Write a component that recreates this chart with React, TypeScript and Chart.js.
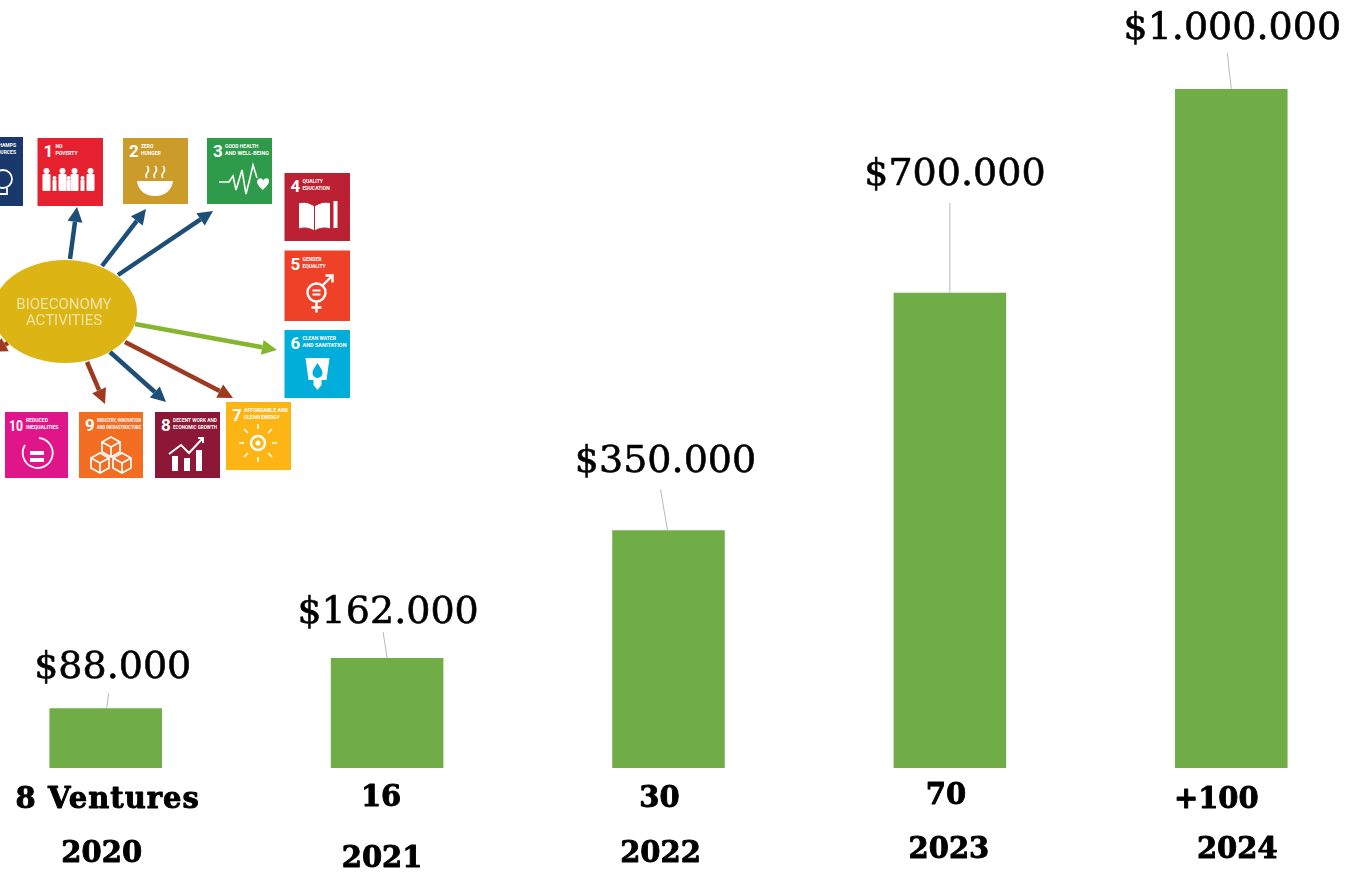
import React, { useEffect, useRef } from "react";
import { Chart, registerables } from "chart.js";

Chart.register(...registerables);

const years = ["2020", "2021", "2022", "2023", "2024"];
const ventures = ["8 Ventures", "16", "30", "70", "+100"];
const funding = [88000, 162000, 350000, 700000, 1000000];
const fundingLabels = ["$88.000", "$162.000", "$350.000", "$700.000", "$1.000.000"];

// hand-placed annotation offsets, relative to each bar's centre / top
const valueLayout = [
  { dx: 7, baseline: 678 }, { dx: 1, baseline: 623 }, { dx: -3, baseline: 472 }, { dx: 5, baseline: 185 }, { dx: 1, baseline: 39 },
];
const leaderLayout = [
  { fromDx: 1, toDx: 3, len: 15 }, { fromDx: 0, toDx: -4, len: 26 }, { fromDx: -1, toDx: -8, len: 41 }, { fromDx: 0, toDx: 0, len: 90 }, { fromDx: 0, toDx: -4, len: 36 },
];
const ventureLayout = [
  { dx: 2, baseline: 808 }, { dx: -6, baseline: 806 }, { dx: -9, baseline: 807 }, { dx: -4, baseline: 804 }, { dx: -15, baseline: 808 },
];
const yearLayout = [
  { dx: -4, baseline: 862 }, { dx: -5, baseline: 867 }, { dx: -8, baseline: 862 }, { dx: -1, baseline: 858 }, { dx: 6, baseline: 858 },
];

const annotations = {
  id: "annotations",
  afterDatasetsDraw(chart: any) {
    const { ctx } = chart;
    const bars = chart.getDatasetMeta(0).data;
    ctx.save();
    ctx.textAlign = "center";
    ctx.textBaseline = "alphabetic";
    ctx.lineJoin = "round";
    bars.forEach((bar: any, i: number) => {
      const leader = leaderLayout[i];
      ctx.strokeStyle = "#b8b8b8";
      ctx.lineWidth = 1;
      ctx.beginPath();
      ctx.moveTo(bar.x + leader.fromDx, bar.y);
      ctx.lineTo(bar.x + leader.toDx, bar.y - leader.len);
      ctx.stroke();

      ctx.fillStyle = "#000";
      ctx.strokeStyle = "#000";
      ctx.font = '38px "DejaVu Serif"';
      ctx.lineWidth = 0.6;
      const vx = bar.x + valueLayout[i].dx;
      ctx.fillText(fundingLabels[i], vx, valueLayout[i].baseline);
      ctx.strokeText(fundingLabels[i], vx, valueLayout[i].baseline);

      ctx.font = 'bold 29px "DejaVu Serif"';
      ctx.lineWidth = 0.9;
      (ctx as any).letterSpacing = ventures[i].length > 4 ? "1px" : "0px";
      const nx = bar.x + ventureLayout[i].dx;
      ctx.fillText(ventures[i], nx, ventureLayout[i].baseline);
      ctx.strokeText(ventures[i], nx, ventureLayout[i].baseline);
      (ctx as any).letterSpacing = "0px";
      const yx = bar.x + yearLayout[i].dx;
      ctx.fillText(years[i], yx, yearLayout[i].baseline);
      ctx.strokeText(years[i], yx, yearLayout[i].baseline);
    });
    ctx.restore();
  },
};

const tiles = [
  { n: "", t: ["CHAMPS", "RESOURCES"], c: "#19386b", x: -43, y: 137, w: 66, h: 69, icon: "bulb" },
  { n: "1", t: ["NO", "POVERTY"], c: "#e5202f", x: 37.5, y: 138, w: 65.5, h: 68, icon: "people" },
  { n: "2", t: ["ZERO", "HUNGER"], c: "#cc9c2a", x: 123, y: 138, w: 65, h: 66, icon: "bowl" },
  { n: "3", t: ["GOOD HEALTH", "AND WELL-BEING"], c: "#2d9b4a", x: 207, y: 138, w: 65, h: 66, icon: "heart" },
  { n: "4", t: ["QUALITY", "EDUCATION"], c: "#bc2033", x: 284.5, y: 173, w: 65.5, h: 68, icon: "book" },
  { n: "5", t: ["GENDER", "EQUALITY"], c: "#ef4128", x: 284.5, y: 250.5, w: 65.5, h: 70.5, icon: "gender" },
  { n: "6", t: ["CLEAN WATER", "AND SANITATION"], c: "#00aed9", x: 284.5, y: 330, w: 65.5, h: 68, icon: "water" },
  { n: "7", t: ["AFFORDABLE AND", "CLEAN ENERGY"], c: "#fdb515", x: 226, y: 402, w: 65, h: 68, icon: "sun" },
  { n: "8", t: ["DECENT WORK AND", "ECONOMIC GROWTH"], c: "#8c1737", x: 155, y: 412, w: 65, h: 66, icon: "growth" },
  { n: "9", t: ["INDUSTRY, INNOVATION", "AND INFRASTRUCTURE"], c: "#f36d22", x: 79, y: 412, w: 64, h: 66, icon: "cubes" },
  { n: "10", t: ["REDUCED", "INEQUALITIES"], c: "#e0158a", x: 5, y: 412, w: 63, h: 66, icon: "ineq" },
];

const arrows = [
  { x1: 70, y1: 259, x2: 77, y2: 207, c: "#1c4e78" },
  { x1: 102, y1: 266, x2: 146, y2: 209, c: "#1c4e78" },
  { x1: 118, y1: 275, x2: 213, y2: 211, c: "#1c4e78" },
  { x1: 135, y1: 324, x2: 277, y2: 350, c: "#86b52f" },
  { x1: 125, y1: 342, x2: 233, y2: 398, c: "#9e3a20" },
  { x1: 110, y1: 352, x2: 166, y2: 402, c: "#1c4e78" },
  { x1: 87, y1: 362, x2: 105, y2: 404, c: "#9e3a20" },
  { x1: 8, y1: 343, x2: -8, y2: 352, c: "#9e3a20" },
];

function Icon({ kind }: { kind: string }) {
  const s = { fill: "none", stroke: "#fff", strokeWidth: 1.6 } as const;
  switch (kind) {
    case "people":
      return (
        <g fill="#fff">
          {[9, 25, 37, 53].map((x, i) => (
            <g key={i}>
              <circle cx={x} cy={33} r={3} />
              <rect x={x - 4} y={36} width={8} height={17} rx={1} />
            </g>
          ))}
          <circle cx={17} cy={40} r={2} /><rect x={15} y={42} width={4} height={11} />
          <circle cx={31} cy={40} r={2} /><rect x={29} y={42} width={4} height={11} />
          <circle cx={45} cy={40} r={2} /><rect x={43} y={42} width={4} height={11} />
        </g>
      );
    case "bowl":
      return (
        <g>
          <path d="M14 43 H50 C49 52 42 58 32 58 C22 58 15 52 14 43 Z" fill="#fff" />
          <path d="M24 28 q3 4 0 7 q-2 3 0 5 M32 28 q3 4 0 7 q-2 3 0 5 M40 28 q3 4 0 7 q-2 3 0 5" {...s} />
        </g>
      );
    case "heart":
      return (
        <g>
          <path d="M12 44 H22 L26 38 L29 52 L35 32 L39 56 L43 40 L46 27 L50 40" {...s} />
          <path d="M50 43 c2-4 6-3 6 0 c1-3 6-4 6 0 c0 4-4 6-6 9 c-3-3-6-5-6-9Z" fill="#fff" />
        </g>
      );
    case "book":
      return (
        <g>
          <path d="M14 30 C20 28 25 30 30 33 V58 C25 55 20 54 14 56 Z M46 30 C40 28 35 30 30 33 V58 C35 55 40 54 46 56 Z" fill="#fff" stroke={"#bc2033"} strokeWidth={1} />
          <rect x={49} y={28} width={4} height={27} fill="#fff" />
        </g>
      );
    case "gender":
      return (
        <g>
          <circle cx={32} cy={42} r={9} fill="none" stroke="#fff" strokeWidth={2.4} />
          <path d="M28 40 H36 M28 44 H36" stroke="#fff" strokeWidth={1.8} />
          <path d="M32 51 V62 M27 57 H37 M38 35 L48 25 M41 25 H48 V32" fill="none" stroke="#fff" strokeWidth={2.4} />
        </g>
      );
    case "water":
      return (
        <g>
          <path d="M21 28 H45 L42 50 H37 V55 L33 60 L29 55 V50 H24 Z" fill="#fff" />
          <path d="M33 33 C36 38 38 40 38 43 A5 5 0 0 1 28 43 C28 40 30 38 33 33Z" fill="#00aed9" />
        </g>
      );
    case "sun":
      return (
        <g>
          <circle cx={32} cy={41} r={7} fill="none" stroke="#fff" strokeWidth={2.4} />
          <circle cx={32} cy={41} r={2.5} fill="#fff" />
          <g stroke="#fff" strokeWidth={1.5}>
            <path d="M32 27 V22 M32 55 V60 M18 41 H13 M46 41 H51 M22 31 L18 27 M42 31 L46 27 M22 51 L18 55 M42 51 L46 55" />
          </g>
        </g>
      );
    case "growth":
      return (
        <g>
          <path d="M17 59 V44 H23 V59Z M29 59 V46 H35 V59Z M41 59 V38 H47 V59Z" fill="#fff" />
          <path d="M14 42 L26 33 L34 41 L48 26 M43 26 H48 V31" fill="none" stroke="#fff" strokeWidth={2} />
        </g>
      );
    case "cubes":
      return (
        <g fill="none" stroke="#fff" strokeWidth={1.7}>
          <path d="M32 25 L41 30 V40 L32 45 L23 40 V30 Z M23 30 L32 35 L41 30 M32 35 V45" />
          <path d="M21 41 L30 46 V56 L21 61 L12 56 V46 Z M12 46 L21 51 L30 46 M21 51 V61" />
          <path d="M43 41 L52 46 V56 L43 61 L34 56 V46 Z M34 46 L43 51 L52 46 M43 51 V61" />
        </g>
      );
    case "ineq":
      return (
        <g>
          <path d="M34 26 A15 15 0 1 1 20 33" fill="none" stroke="#fff" strokeWidth={1.8} />
          <path d="M25 39 H39 V43 H25Z M25 46 H39 V50 H25Z" fill="#fff" />
        </g>
      );
    case "bulb":
      return (
        <g fill="none" stroke="#fff" strokeWidth={1.8}>
          <circle cx={46} cy={42} r={9} />
          <path d="M42 51 V57 H50 V51" />
        </g>
      );
    default:
      return null;
  }
}

function Inset() {
  return (
    <svg
      width={360}
      height={490}
      style={{ position: "absolute", left: 0, top: 0, filter: "blur(0.6px)" }}
    >
      {arrows.map((a, i) => {
        const ang = Math.atan2(a.y2 - a.y1, a.x2 - a.x1);
        const L = 15;
        const W = 7.5;
        const bx = a.x2 - L * Math.cos(ang);
        const by = a.y2 - L * Math.sin(ang);
        const nx = -Math.sin(ang) * W;
        const ny = Math.cos(ang) * W;
        return (
          <g key={i}>
            <line x1={a.x1} y1={a.y1} x2={bx} y2={by} stroke={a.c} strokeWidth={4.5} />
            <polygon points={`${a.x2},${a.y2} ${bx + nx},${by + ny} ${bx - nx},${by - ny}`} fill={a.c} />
          </g>
        );
      })}
      <ellipse cx={65} cy={311.5} rx={72} ry={51.5} fill="#dcb414" />
      <text x={64} y={308.5} textAnchor="middle" fontFamily="Roboto" fontSize={15} fill="#f0e5a6">BIOECONOMY</text>
      <text x={64} y={325} textAnchor="middle" fontFamily="Roboto" fontSize={15} fill="#f0e5a6">ACTIVITIES</text>
      {tiles.map((t, i) => {
        const isTen = t.n === "10";
        const labelX = isTen ? 21 : 18;
        return (
          <g key={i} transform={`translate(${t.x},${t.y})`}>
            <rect width={t.w} height={t.h} fill={t.c} />
            {t.n && (
              <text x={isTen ? 4 : 6} y={19} fontFamily="Roboto" fontWeight={700} fontSize={isTen ? 14 : 17} fill="#fff" textLength={isTen ? 14 : undefined} lengthAdjust="spacingAndGlyphs">
                {t.n}
              </text>
            )}
            {t.n ? (
              t.t.map((line, k) => (
                <text key={k} x={labelX} y={10 + k * 7} fontFamily="Roboto" fontWeight={700} fontSize={5} fill="#fff" textLength={line.length > 12 ? 44 : undefined} lengthAdjust="spacingAndGlyphs">
                  {line}
                </text>
              ))
            ) : (
              t.t.map((line, k) => (
                <text key={k} x={59} y={10 + k * 7} textAnchor="end" fontFamily="Roboto" fontWeight={700} fontSize={5} fill="#fff">
                  {line}
                </text>
              ))
            )}
            <Icon kind={t.icon} />
          </g>
        );
      })}
    </svg>
  );
}

export default function App() {
  const ref = useRef<HTMLCanvasElement>(null);

  useEffect(() => {
    document.body.style.margin = "0";
    const chart = new Chart(ref.current!, {
      type: "bar",
      data: {
        labels: years,
        datasets: [
          {
            data: funding,
            backgroundColor: "#70AD47",
            borderWidth: 0,
            barPercentage: 0.4,
            categoryPercentage: 1,
          },
        ],
      },
      options: {
        responsive: false,
        animation: false,
        layout: { padding: { top: 89, bottom: 105, left: 0, right: 0 } },
        plugins: { legend: { display: false }, title: { display: false }, tooltip: { enabled: false } },
        scales: {
          x: { display: false, grid: { display: false } },
          y: { display: false, min: 0, max: 1000000, grid: { display: false } },
        },
      },
      plugins: [annotations],
    });
    return () => chart.destroy();
  }, []);

  return (
    <div style={{ position: "absolute", left: 0, top: 0, width: 1350, height: 873, overflow: "hidden", background: "#fff" }}>
      <canvas ref={ref} width={1407} height={873} style={{ position: "absolute", left: -35, top: 0 }} />
      <Inset />
    </div>
  );
}
